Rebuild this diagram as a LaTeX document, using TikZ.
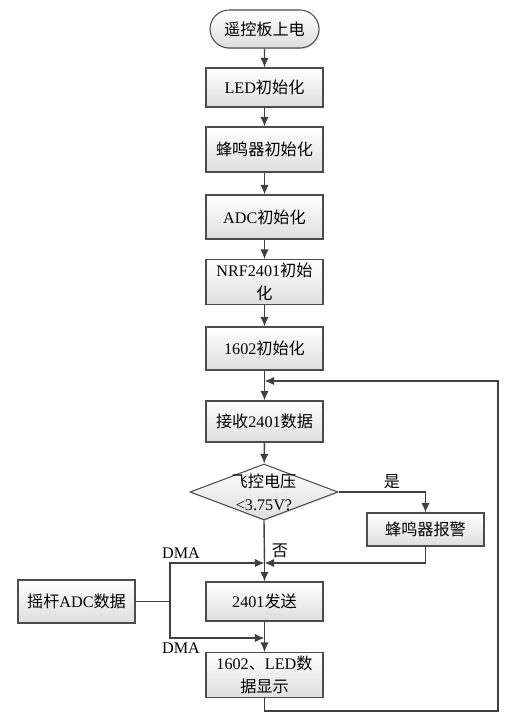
\documentclass[tikz,border=0pt]{standalone}
\usepackage{fontspec}
\setmainfont{Liberation Serif}
\newfontfamily\cjk{Noto Sans CJK SC}
\newcommand{\zh}[1]{{\cjk #1}}
\usetikzlibrary{shapes, arrows.meta, positioning, calc, shadows}

\tikzset{
    flowbox/.style={draw=black!70, line width=0.6pt, top color=white, bottom color=black!13,
        minimum width=2.34cm, align=center, inner sep=2pt,
        drop shadow={shadow xshift=0.6pt, shadow yshift=-0.6pt, opacity=0.25}},
    flowline/.style={draw=black!75, line width=0.8pt},
    lbl/.style={font=\fontsize{9.2}{12}\selectfont}
}

\begin{document}
\begin{tikzpicture}[x=0.02cm, y=-0.02cm, >={Latex[length=5.5pt,width=4.8pt]}, font=\fontsize{9.2}{13}\selectfont]
    \useasboundingbox (0,0) rectangle (526,717);

    % Main column
    \node[flowbox, rounded rectangle, minimum width=2.32cm, minimum height=0.76cm] (start) at (264.5,29) {\zh{遥控板上电}};
    \node[flowbox, minimum height=0.78cm] (led) at (264.5,87.5) {LED\zh{初始化}};
    \node[flowbox, minimum height=0.9cm] (buzz) at (264.5,149.5) {\zh{蜂鸣器初始化}};
    \node[flowbox, minimum height=0.88cm] (adc) at (264.5,217) {ADC\zh{初始化}};
    \node[flowbox, minimum height=0.88cm] (nrf) at (264.5,282) {NRF2401\zh{初始}\\\zh{化}};
    \node[flowbox, minimum height=0.86cm] (lcd) at (264.5,348.5) {1602\zh{初始化}};
    \node[flowbox, minimum height=0.82cm] (recv) at (264.5,421.5) {\zh{接收}2401\zh{数据}};

    % Voltage check
    \node[flowbox, diamond, aspect=2.64, inner sep=-4pt, minimum width=2.96cm, minimum height=1.12cm] (volt) at (264,492) {\zh{飞控电压}\\{<}3.75V?};
    \node[flowbox, minimum height=0.66cm] (alarm) at (425.5,529.5) {\zh{蜂鸣器报警}};

    % Sending and display
    \node[flowbox, minimum height=0.86cm] (joy) at (76.5,601.5) {\zh{摇杆}ADC\zh{数据}};
    \node[flowbox, minimum height=0.78cm] (send) at (264.5,601.5) {2401\zh{发送}};
    \node[flowbox, minimum height=0.84cm] (disp) at (264.5,675) {1602\zh{、}LED\zh{数}\\\zh{据显示}};

    % Junctions
    \coordinate (back) at (264.5,381);
    \coordinate (merge1) at (264.5,563);
    \coordinate (merge2) at (264.5,638);
    \coordinate (split) at (170,601.5);
    \coordinate (corner) at (498,711);

    % Connectors
    \draw[flowline, ->] (start) -- (led);
    \draw[flowline, ->] (led) -- (buzz);
    \draw[flowline, ->] (buzz) -- (adc);
    \draw[flowline, ->] (adc) -- (nrf);
    \draw[flowline, ->] (nrf) -- (lcd);
    \draw[flowline, ->] (lcd) -- (recv);
    \draw[flowline, ->] (recv) -- (volt);
    \draw[flowline, ->] (volt.east) -| (alarm.north);
    \draw[flowline] (volt.south) -- (merge1);
    \draw[flowline, ->] (alarm.south) |- (merge1);
    \draw[flowline, ->] (merge1) -- (send);
    \draw[flowline] (joy.east) -- (split);
    \draw[flowline, ->] (split) |- (merge1);
    \draw[flowline, ->] (split) |- (merge2);
    \draw[flowline] (send) -- (merge2);
    \draw[flowline, ->] (merge2) -- (disp);
    \draw[flowline, ->] (disp.south) |- (corner) |- (back);

    % Labels
    \node[lbl] (yes) at (392,482) {\zh{是}};
    \node[lbl] (no) at (280,551) {\zh{否}};
    \node[lbl] (dma1) at (181,553) {DMA};
    \node[lbl] (dma2) at (181,648) {DMA};
\end{tikzpicture}
\end{document}
